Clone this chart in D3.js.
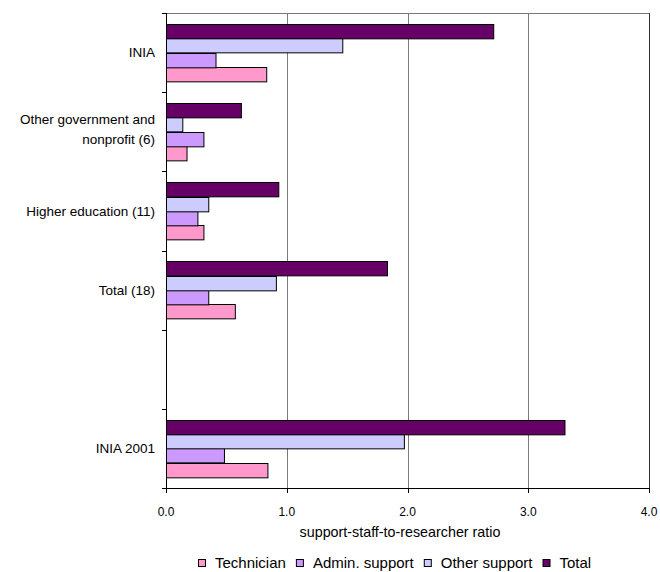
<!DOCTYPE html>
<html><head><meta charset="utf-8">
<script src="https://cdn.jsdelivr.net/npm/d3@7/dist/d3.min.js"></script>
<style>html,body{margin:0;padding:0;background:#fff;}svg{display:block;font-family:"Liberation Sans",Arial,sans-serif;}</style>
</head><body><svg id="chart" width="660" height="572"></svg>
<script>
const categories = ["INIA", "Other government and|nonprofit (6)", "Higher education (11)", "Total (18)", "", "INIA 2001"];
const seriesNames = ["Technician", "Admin. support", "Other support", "Total"];
const technician = [0.83, 0.17, 0.31, 0.57, null, 0.84];
const adminSupport = [0.41, 0.31, 0.26, 0.35, null, 0.48];
const otherSupport = [1.46, 0.135, 0.35, 0.91, null, 1.97];
const total = [2.71, 0.62, 0.93, 1.83, null, 3.30];
const xTicks = [0, 1, 2, 3, 4];
const xTickLabels = ["0.0", "1.0", "2.0", "3.0", "4.0"];
const colors = ["#FF99CC", "#CC99FF", "#CCCCFF", "#660066"];
const xTitle = "support-staff-to-researcher ratio";

const seriesValues = [technician, adminSupport, otherSupport, total];
const svg = d3.select("#chart");
const L = 166, R = 649, T = 13, B = 488;
const x = d3.scaleLinear().domain([0, 4]).range([L, R]);
const y = d3.scaleBand().domain(d3.range(categories.length)).range([T, B]).padding(0);
const bw = y.bandwidth();
const inner = d3.scaleBand().domain([3, 2, 1, 0]).range([10.9, bw - 10.9]).padding(0);

// gridlines
svg.append("g").selectAll("line").data(xTicks.filter(d => d > 0 && d < 4)).join("line")
  .attr("x1", d => Math.round(x(d)) + 0.5).attr("x2", d => Math.round(x(d)) + 0.5)
  .attr("y1", T).attr("y2", B).attr("stroke", "#7a7a7a").attr("stroke-width", 1);
// top border & right border
svg.append("line").attr("x1", L).attr("x2", R + 0.5).attr("y1", T + 0.5).attr("y2", T + 0.5).attr("stroke", "#7a7a7a");
svg.append("line").attr("x1", R + 0.5).attr("x2", R + 0.5).attr("y1", T).attr("y2", B).attr("stroke", "#333");

// bars
const barData = [];
seriesValues.forEach((vals, s) => vals.forEach((v, i) => { if (v != null) barData.push({ s, i, v }); }));
svg.append("g").selectAll("rect").data(barData).join("rect")
  .attr("x", L + 0.5)
  .attr("y", d => Math.round(y(d.i) + inner(d.s)) + 0.5)
  .attr("width", d => x(d.v) - L)
  .attr("height", inner.bandwidth())
  .attr("fill", d => colors[d.s])
  .attr("stroke", "#000").attr("stroke-width", 1);

// axes lines
svg.append("line").attr("x1", L + 0.5).attr("x2", L + 0.5).attr("y1", T).attr("y2", B + 0.5).attr("stroke", "#000");
svg.append("line").attr("x1", L).attr("x2", R + 1).attr("y1", B + 0.5).attr("y2", B + 0.5).attr("stroke", "#000");
// y ticks at band boundaries
const bounds = d3.range(categories.length + 1).map(i => T + i * bw);
svg.append("g").selectAll("line").data(bounds).join("line")
  .attr("x1", L - 4).attr("x2", L).attr("y1", d => Math.round(d) + 0.5).attr("y2", d => Math.round(d) + 0.5).attr("stroke", "#000");
// x ticks
svg.append("g").selectAll("line").data(xTicks).join("line")
  .attr("x1", d => Math.round(x(d)) + 0.5).attr("x2", d => Math.round(x(d)) + 0.5)
  .attr("y1", B).attr("y2", B + 5).attr("stroke", "#000");
svg.append("g").selectAll("text").data(xTicks).join("text")
  .attr("x", d => x(d)).attr("y", 512).attr("dy", "0.35em").attr("text-anchor", "middle")
  .attr("font-size", 12).attr("fill", "#000").text((d, i) => xTickLabels[i]);
svg.append("text").attr("x", 400).attr("y", 532).attr("dy", "0.35em").attr("text-anchor", "middle")
  .attr("font-size", 14.3).attr("fill", "#000").text(xTitle);

// category labels
categories.forEach((c, i) => {
  if (!c) return;
  const lines = c.split("|");
  const cy = y(i) + bw / 2;
  const lh = 20;
  lines.forEach((ln, k) => {
    svg.append("text").attr("x", 155).attr("y", cy + (k - (lines.length - 1) / 2) * lh - (lines.length > 1 ? 2 : 0))
      .attr("dy", "0.35em").attr("text-anchor", "end").attr("font-size", 13.5).attr("fill", "#000").text(ln);
  });
});

// legend
const lg = svg.append("g");
let lx = 198;
seriesNames.forEach((n, s) => {
  lg.append("rect").attr("x", lx + 0.5).attr("y", 559.5).attr("width", 7).attr("height", 7)
    .attr("fill", colors[s]).attr("stroke", "#000");
  const t = lg.append("text").attr("x", lx + 17).attr("y", 563).attr("dy", "0.35em").attr("font-size", 15).attr("fill", "#000").text(n);
  lx += 17 + t.node().getComputedTextLength() + 10;
});
</script></body></html>
